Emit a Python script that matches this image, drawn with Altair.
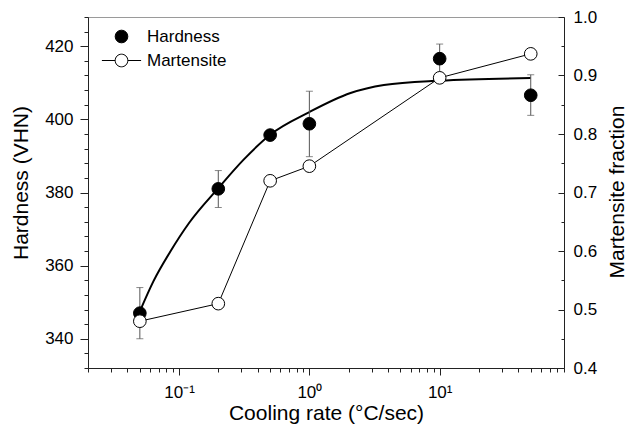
import altair as alt
import pandas as pd

# ---- data ----
rate = [0.05, 0.2, 0.5, 1, 10, 50]
hardness = [347.0, 381.0, 395.7, 398.8, 416.6, 406.6]
hard_lo = [340.0, 375.9, 394.8, 389.8, 412.5, 401.1]
hard_hi = [354.0, 386.0, 396.6, 407.7, 420.6, 412.2]
martensite = [0.480, 0.510, 0.720, 0.745, 0.896, 0.937]

fit_rate = [0.05, 0.0635, 0.0855, 0.12, 0.2, 0.313, 0.5, 1, 2.07, 3.73, 10, 50]
fit_hard = [347.5, 355.7, 363.8, 371.8, 381.2, 389.0, 395.8, 402.0, 407.2, 409.4, 410.6, 411.3]

x_ticks = [0.02, 0.03, 0.04, 0.05, 0.06, 0.07, 0.08, 0.09,
           0.1, 0.2, 0.3, 0.4, 0.5, 0.6, 0.7, 0.8, 0.9,
           1, 2, 3, 4, 5, 6, 7, 8, 9,
           10, 20, 30, 40, 50, 60, 70, 80, 90]
y_ticks = [332, 336, 340, 344, 348, 352, 356, 360, 364, 368, 372, 376, 380,
           384, 388, 392, 396, 400, 404, 408, 412, 416, 420, 424, 428]
y2_ticks = [0.4, 0.45, 0.5, 0.55, 0.6, 0.65, 0.7, 0.75, 0.8, 0.85, 0.9, 0.95, 1.0]

FONT = "Liberation Sans"
MART_SYMBOL = "M-3.1,0L-1,0M1,0L3.1,0M1,0A1,1,0,1,1,-1,0A1,1,0,1,1,1,0Z"

df = pd.DataFrame({
    "rate": rate, "hardness": hardness, "lo": hard_lo, "hi": hard_hi,
    "mart": martensite,
    "h_series": ["Hardness"] * len(rate),
    "m_series": ["Martensite"] * len(rate),
})
caps = pd.DataFrame({"rate": rate + rate, "v": hard_lo + hard_hi})
fit = pd.DataFrame({"rate": fit_rate, "h": fit_hard})

xscale = alt.Scale(type="log", domain=[0.02, 90], nice=False)
xaxis = alt.Axis(
    values=x_ticks,
    labelExpr="datum.value == 0.1 ? '10⁻¹' : datum.value == 1 ? '10⁰' : datum.value == 10 ? '10¹' : ''",
    tickSize={"condition": {"test": "datum.value == 0.1 || datum.value == 1 || datum.value == 10", "value": 7}, "value": 4},
    labelPadding=9, labelOverlap=False, labelFlush=False,
    title="Cooling rate (°C/sec)", titleBaseline="middle", titleY=45,
)
X = alt.X("rate:Q", scale=xscale, axis=xaxis)

yl_scale = alt.Scale(domain=[332, 428], nice=False, zero=False)
yl_axis = alt.Axis(
    orient="left", values=y_ticks,
    labelExpr="datum.value % 20 == 0 ? datum.label : ''",
    tickSize={"condition": {"test": "datum.value % 20 == 0", "value": 8}, "value": 4},
    labelPadding=7, labelOverlap=False, labelFlush=False,
    title="Hardness (VHN)", titleAngle=-90, titleBaseline="middle",
    titleX=-67, titleY=165.5,
)
yr_scale = alt.Scale(domain=[0.4, 1.0], nice=False, zero=False)
yr_axis = alt.Axis(
    orient="right", values=y2_ticks, format=".1f",
    labelExpr="abs(datum.value * 10 - round(datum.value * 10)) < 0.001 ? datum.label : ''",
    tickSize={"condition": {"test": "abs(datum.value * 10 - round(datum.value * 10)) < 0.001", "value": -6}, "value": -3},
    labelPadding=15, labelOverlap=False, labelFlush=False,
    title="Martensite fraction", titleAngle=-90, titleBaseline="middle",
    titleX=53, titleY=174.5,
)

legend_common = dict(
    title=None, orient="none", symbolSize=160, symbolStrokeColor="black",
    symbolStrokeWidth=1, labelFont=FONT, labelFontSize=17, labelColor="black",
    labelOffset=17, padding=0,
)

curve = alt.Chart(fit).mark_line(color="black", strokeWidth=2, interpolate="monotone").encode(
    x=X, y=alt.Y("h:Q", scale=yl_scale, axis=yl_axis))
err = alt.Chart(df).mark_rule(color="#555555", strokeWidth=1).encode(
    x=X, y=alt.Y("lo:Q", scale=yl_scale, axis=yl_axis), y2="hi:Q")
cap = alt.Chart(caps).mark_tick(color="#555555", thickness=1, size=7, orient="horizontal").encode(
    x=X, y=alt.Y("v:Q", scale=yl_scale, axis=yl_axis))
hpts = alt.Chart(df).mark_point(filled=True, size=160, stroke="black", strokeWidth=1, opacity=1).encode(
    x=X, y=alt.Y("hardness:Q", scale=yl_scale, axis=yl_axis),
    fill=alt.Fill("h_series:N", scale=alt.Scale(domain=["Hardness"], range=["black"]),
                  legend=alt.Legend(legendX=25, legendY=11, symbolType="circle", **legend_common)))

mline = alt.Chart(df).mark_line(color="black", strokeWidth=1).encode(
    x=X, y=alt.Y("mart:Q", scale=yr_scale, axis=yr_axis))
mpts = alt.Chart(df).mark_point(filled=True, size=160, stroke="black", strokeWidth=1, opacity=1).encode(
    x=X, y=alt.Y("mart:Q", scale=yr_scale, axis=yr_axis),
    fill=alt.Fill("m_series:N", scale=alt.Scale(domain=["Martensite"], range=["white"]),
                  legend=alt.Legend(legendX=25, legendY=35, symbolType=MART_SYMBOL, **legend_common)))

left = alt.layer(curve, err, cap, hpts)
right = alt.layer(mline, mpts)

chart = (
    alt.layer(left, right)
    .resolve_scale(y="independent", fill="independent")
    .properties(width=476, height=351, autosize="none",
                padding={"left": 80, "top": 9, "right": 63, "bottom": 62})
    .configure_axis(labelFont=FONT, titleFont=FONT, labelFontSize=17, titleFontSize=21,
                    titleFontWeight="normal", labelColor="black", titleColor="black",
                    domainColor="#222222", tickColor="#222222", domainWidth=1, tickWidth=1,
                    grid=False)
    .configure_view(stroke="#9a9a9a", strokeWidth=1)
)

chart.save("out.html", embed_options={"renderer": "svg", "actions": False})
